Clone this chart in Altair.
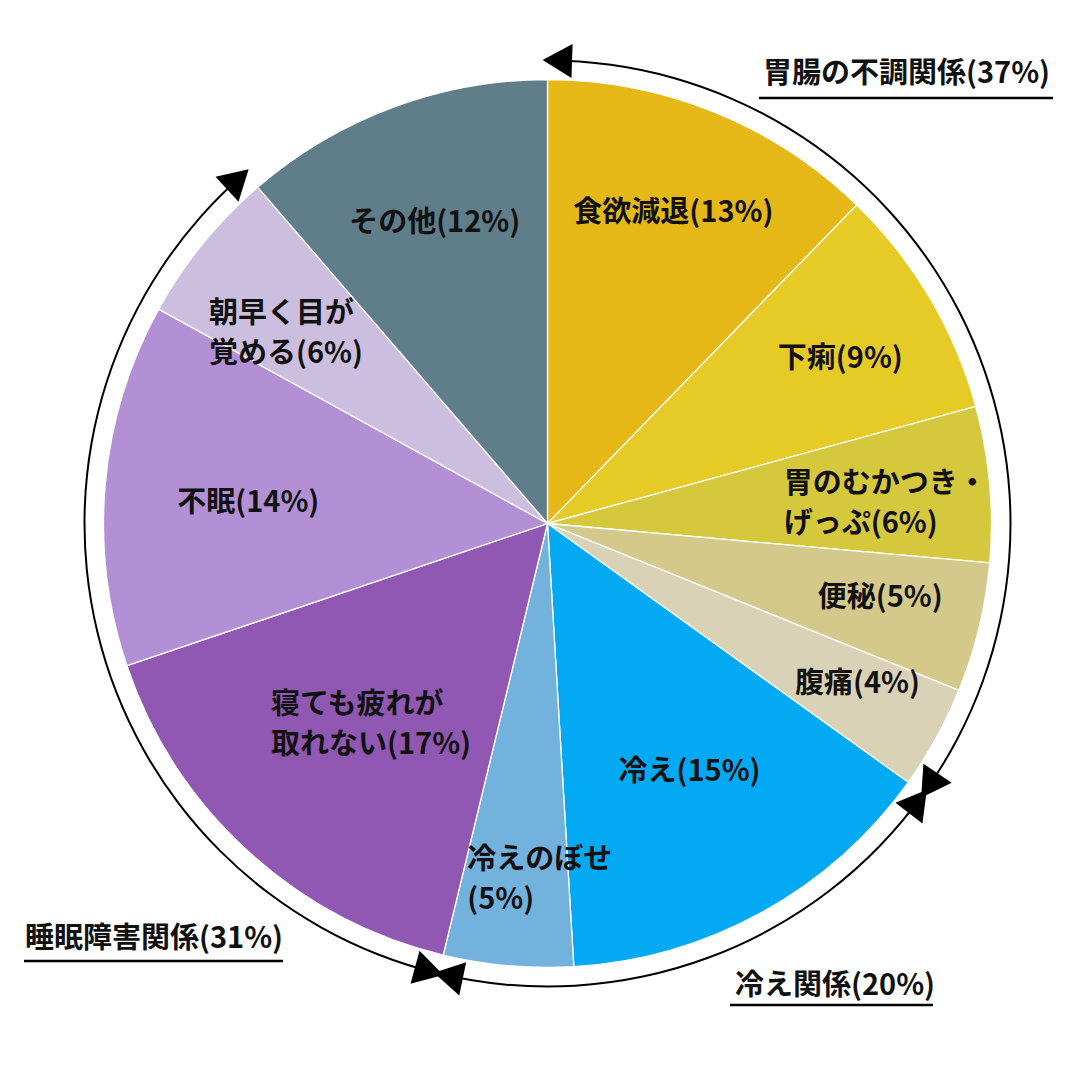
import math
import altair as alt
import pandas as pd

# ---------------- data ----------------
slice_names = ["食欲減退", "下痢", "胃のむかつき・げっぷ", "便秘", "腹痛",
               "冷え", "冷えのぼせ", "寝ても疲れが取れない", "不眠",
               "朝早く目が覚める", "その他"]
slice_label_text = ["食欲減退", "下痢", "胃のむかつき・\nげっぷ", "便秘", "腹痛",
                    "冷え", "冷えのぼせ\n", "寝ても疲れが\n取れない", "不眠",
                    "朝早く目が\n覚める", "その他"]
slice_values = [13, 9, 6, 5, 4, 15, 5, 17, 14, 6, 12]
slice_colors = ["#E6B817", "#E6CB26", "#D6C83D", "#D4C98A", "#DAD2B6",
                "#04A9F4", "#73B2DC", "#9057B3", "#B38FD5", "#CBBEDE", "#607D8A"]

group_names = ["胃腸の不調関係", "冷え関係", "睡眠障害関係"]
group_pcts = [37, 20, 31]
group_first_slice = [0, 5, 7]
group_last_slice = [4, 6, 9]

# ---------------- layout ----------------
W = H = 1064
CX, CY = 539.5, 515.5
R_PIE = 444
R_RING = 463
ARROW_W = 34
FONT = "Noto Sans CJK JP"
FS = 29
LINE_H = 40

label_r = [335, 336, 237, 341, 349, 286, 365, 342, 300, 388, 321]
label_dangle = [0, 1.2, 0.3, -0.9, -1.5, -0.9, 7.6, 11.5, -1.1, -9.8, -0.2]
label_align = ["center", "center", "left", "center", "center", "center",
               "left", "left", "center", "left", "center"]

group_label_xy = [(755, 66), (727, 978), (17, 931)]
group_underline = [(751, 1045, 90), (722, 925, 997), (16, 275, 953)]

# ---------------- derived tables ----------------
total = sum(slice_values)
starts, ends = [], []
acc = 0
for v in slice_values:
    starts.append(acc)
    acc += v
    ends.append(acc)


def deg(v):
    return v / total * 360.0


def polar(angle_deg, r):
    a = math.radians(angle_deg)
    return CX + r * math.sin(a), CY - r * math.cos(a)


pie_df = pd.DataFrame({
    "name": slice_names,
    "start": starts,
    "end": ends,
})

lab_rows = []
for i, v in enumerate(slice_values):
    mid = deg((starts[i] + ends[i]) / 2) + label_dangle[i]
    x, y = polar(mid, label_r[i])
    n_lines = slice_label_text[i].count("\n") + 1
    y -= (n_lines - 1) * LINE_H / 2
    lab_rows.append({"x": x, "y": y,
                     "text": f"{slice_label_text[i]}({v}%)",
                     "align": label_align[i]})
lab_df = pd.DataFrame(lab_rows)

ring_rows = []
arrow_rows = []
half_h = (math.sqrt(3) / 2 * ARROW_W) / 2
delta = math.degrees(half_h / R_RING)
for g in range(len(group_names)):
    s = starts[group_first_slice[g]]
    e = ends[group_last_slice[g]]
    ring_rows.append({"group": group_names[g], "start": s, "end": e})
    a0 = deg(s) + delta
    x0, y0 = polar(a0, R_RING)
    arrow_rows.append({"x": x0, "y": y0, "rot": a0 - 90})
    a1 = deg(e) - delta
    x1, y1 = polar(a1, R_RING)
    arrow_rows.append({"x": x1, "y": y1, "rot": a1 + 90})
ring_df = pd.DataFrame(ring_rows)
arrow_df = pd.DataFrame(arrow_rows)

glab_df = pd.DataFrame({
    "x": [p[0] for p in group_label_xy],
    "y": [p[1] for p in group_label_xy],
    "text": [f"{n}({p}%)" for n, p in zip(group_names, group_pcts)],
})
gline_df = pd.DataFrame({
    "x": [u[0] for u in group_underline],
    "x2": [u[1] for u in group_underline],
    "y": [u[2] for u in group_underline],
})

# ---------------- scales ----------------
theta_scale = alt.Scale(domain=[0, total], range=[0, 2 * math.pi], zero=True, nice=False)
xs = alt.Scale(domain=[0, W], range=[0, W], nice=False, zero=False)
ys = alt.Scale(domain=[0, H], range=[0, H], nice=False, zero=False)

pie = alt.Chart(pie_df).mark_arc(radius=R_PIE, stroke="white", strokeWidth=1.3).encode(
    theta=alt.Theta("start:Q", scale=theta_scale),
    theta2="end:Q",
    color=alt.Color("name:N", scale=alt.Scale(domain=slice_names, range=slice_colors), legend=None),
    x=alt.value(CX),
    y=alt.value(CY),
)

ring = alt.Chart(ring_df).mark_arc(radius=R_RING + 1.0, radius2=R_RING - 1.0, color="black").encode(
    theta=alt.Theta("start:Q", scale=theta_scale),
    theta2="end:Q",
    x=alt.value(CX),
    y=alt.value(CY),
)

arrows = alt.Chart(arrow_df).mark_point(shape="triangle", filled=True, size=ARROW_W ** 2,
                                        color="black", opacity=1, strokeWidth=0).encode(
    x=alt.X("x:Q", scale=xs, axis=None),
    y=alt.Y("y:Q", scale=ys, axis=None),
    angle=alt.Angle("rot:Q", scale=None),
)

text_common = dict(font=FONT, fontSize=FS, fontWeight="bold", color="#111111",
                   lineBreak="\n", lineHeight=LINE_H, baseline="middle")

labels_center = alt.Chart(lab_df[lab_df["align"] == "center"]).mark_text(align="center", **text_common).encode(
    x=alt.X("x:Q", scale=xs, axis=None),
    y=alt.Y("y:Q", scale=ys, axis=None),
    text="text:N",
)
labels_left = alt.Chart(lab_df[lab_df["align"] == "left"]).mark_text(align="left", **text_common).encode(
    x=alt.X("x:Q", scale=xs, axis=None),
    y=alt.Y("y:Q", scale=ys, axis=None),
    text="text:N",
)

glabels = alt.Chart(glab_df).mark_text(align="left", **text_common).encode(
    x=alt.X("x:Q", scale=xs, axis=None),
    y=alt.Y("y:Q", scale=ys, axis=None),
    text="text:N",
)

glines = alt.Chart(gline_df).mark_rule(color="black", strokeWidth=2.5).encode(
    x=alt.X("x:Q", scale=xs, axis=None),
    x2="x2:Q",
    y=alt.Y("y:Q", scale=ys, axis=None),
)

chart = alt.layer(pie, ring, arrows, labels_center, labels_left, glabels, glines).properties(
    width=W, height=H, padding=0,
    autosize=alt.AutoSizeParams(type="none"),
    background="white",
).configure_view(stroke=None)

chart.save("out.html", embed_options={"renderer": "svg", "actions": False})
